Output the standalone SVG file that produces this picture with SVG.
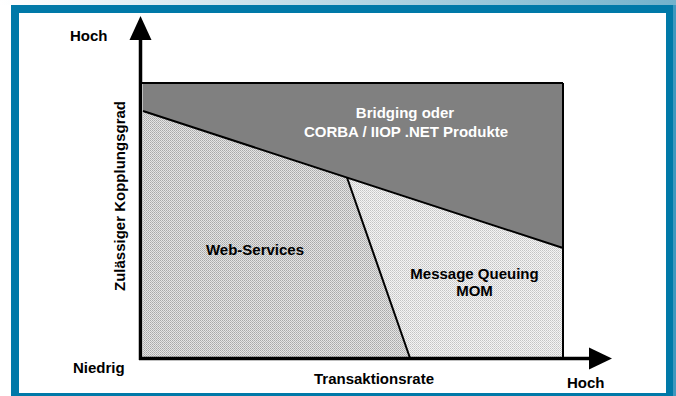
<svg xmlns="http://www.w3.org/2000/svg" width="676" height="396" viewBox="0 0 676 396">
<defs>
<style>
text{font-family:"Liberation Sans",Arial,sans-serif;font-weight:bold;font-size:15px;fill:#000}
.w{fill:#fff}
.ln{stroke:#000;stroke-width:2;fill:none}
.ax{stroke:#000;stroke-width:3.5;fill:none}
</style>
<linearGradient id="top" x1="0" y1="0" x2="1" y2="0">
<stop offset="0" stop-color="#ffffff"/>
<stop offset="1" stop-color="#72b2cc"/>
</linearGradient>
<pattern id="pWeb" width="2" height="2" patternUnits="userSpaceOnUse">
<rect width="2" height="2" fill="#e4e4e4"/>
<rect width="1" height="1" fill="#a8a8a8"/>
<rect x="1" y="1" width="1" height="1" fill="#b8b8b8"/>
</pattern>
<pattern id="pMom" width="2" height="2" patternUnits="userSpaceOnUse">
<rect width="2" height="2" fill="#f4f4f4"/>
<rect width="1" height="1" fill="#c4c4c4"/>
<rect x="1" y="1" width="1" height="1" fill="#d4d4d4"/>
</pattern>
</defs>
<g id="frame">
<rect x="0" y="0" width="676" height="5" fill="url(#top)"/>
<rect x="672" y="5" width="4" height="391" fill="#3f98bf"/>
<rect x="11" y="5" width="662" height="391" fill="#0079a8"/>
<rect x="19" y="13" width="647" height="380" fill="#ffffff"/>
</g>
<g id="bridging">
<polygon points="143,83 563,83 563,248 143,111" fill="#808080"/>
<text class="w" x="405" y="118" text-anchor="middle">Bridging oder</text>
<text class="w" x="406" y="137" text-anchor="middle">CORBA / IIOP .NET Produkte</text>
</g>
<g id="webservices">
<polygon points="143,111 347,177.5 410,358 143,358" fill="url(#pWeb)"/>
<text x="255" y="255" text-anchor="middle">Web-Services</text>
</g>
<g id="mom">
<polygon points="347,177.5 563,248 563,358 410,358" fill="url(#pMom)"/>
<text x="474.5" y="279" text-anchor="middle">Message Queuing</text>
<text x="474.5" y="296" text-anchor="middle">MOM</text>
</g>
<g id="connectors">
<line class="ln" x1="141" y1="83" x2="563" y2="83"/>
<line class="ln" x1="563" y1="83" x2="563" y2="358"/>
<line class="ln" x1="143" y1="111" x2="563" y2="248"/>
<line class="ln" x1="347" y1="177.5" x2="410" y2="358"/>
<line class="ax" x1="140.5" y1="360" x2="140.5" y2="38"/>
<polygon points="140.5,16 129.5,40 151.5,40" fill="#000"/>
<line class="ax" x1="139" y1="358.5" x2="592" y2="358.5"/>
<polygon points="612,358.5 589,347.5 589,369.5" fill="#000"/>
</g>
<g id="labels">
<text x="70" y="41">Hoch</text>
<text x="73" y="373">Niedrig</text>
<text x="374" y="384" text-anchor="middle">Transaktionsrate</text>
<text x="567" y="388">Hoch</text>
<text transform="translate(125,196) rotate(-90)" text-anchor="middle">Zulässiger Kopplungsgrad</text>
</g>
</svg>
